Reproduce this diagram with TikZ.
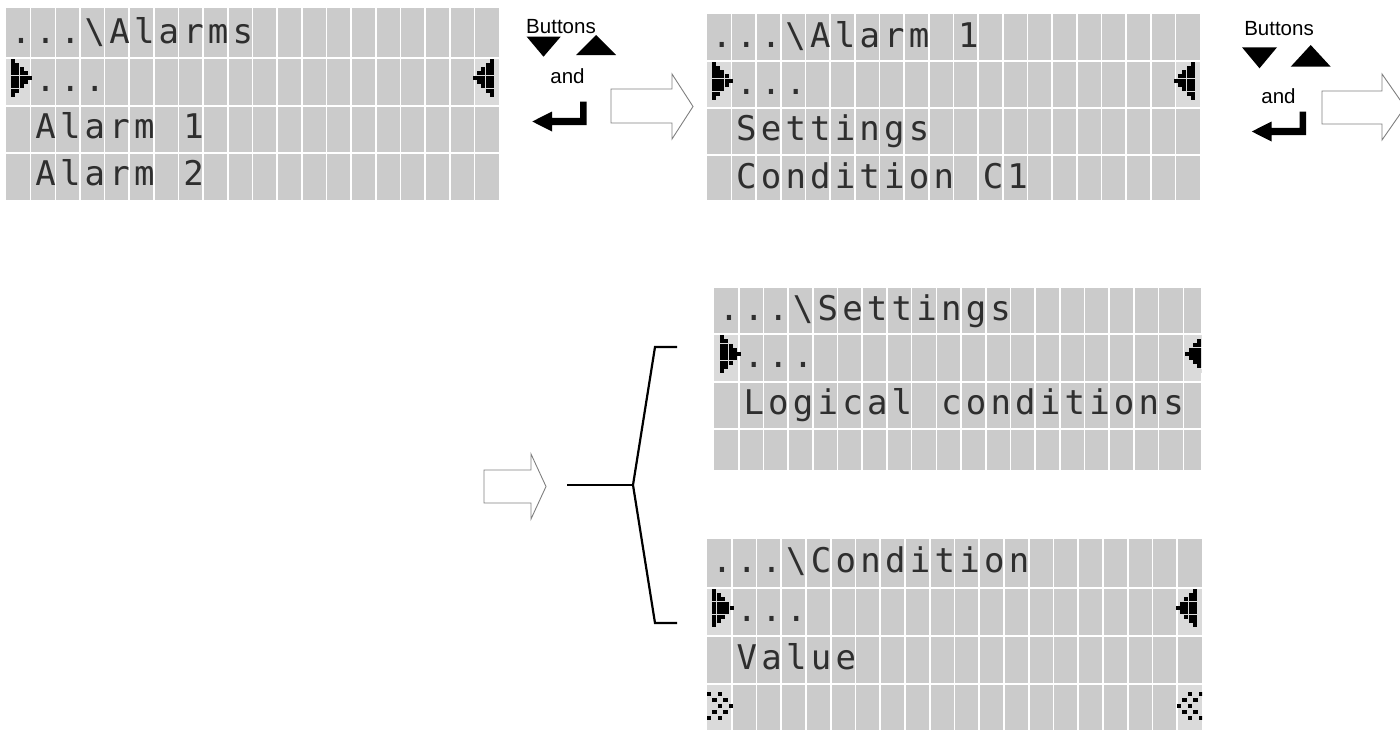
\documentclass[tikz,border=0pt]{standalone}
\usepackage{fontspec}
\setmainfont{Liberation Sans}
\newfontfamily\lcdfont{DejaVu Sans Mono}
\usetikzlibrary{calc}

\definecolor{lcdgray}{HTML}{CBCBCB}
\definecolor{iconbg}{HTML}{DADADA}
\definecolor{lcdink}{HTML}{2E2E2E}
\definecolor{hollowline}{HTML}{808080}

\newlength\lcdcw
\newcommand\bs{\textbackslash}
\newcommand\lcdtxt[2]{\setlength\lcdcw{#1pt}\lcdloop#2\relax}
\def\lcdloop#1{\ifx#1\relax\else\makebox[\lcdcw][c]{#1}\expandafter\lcdloop\fi}

% panel: name, x0, x1, column width, row tops y0..y3, bottom y4
\newcommand\lcdpanel[9]{%
  \node[lcdbox, anchor=north west, minimum width={#3-#2}, minimum height={#9-#5}] (#1) at (#2,#5) {};
}
\newcommand\lcdgrid[9]{%
  \foreach \i in {1,...,19} {\draw[gridline] ({#2+\i*#4},#5) -- ({#2+\i*#4},#9);}
  \foreach \yy in {#6,#7,#8} {\draw[gridline] (#2,\yy) -- (#3,\yy);}
}
% right-pointing dot triangle: col0 centre x, row0 centre y, pitch
\newcommand\dotsright[3]{%
  \foreach \c in {0,...,4}{%
    \pgfmathtruncatemacro\ee{8-\c}%
    \foreach \r in {\c,...,\ee}{\fill[lcddot] ({#1+\c*#3-2},{#2+\r*#3-2}) rectangle +(4,4);}}%
}
% left-pointing dot triangle: widest column centre x, row0 centre y, pitch
\newcommand\dotsleft[3]{%
  \foreach \c in {0,...,4}{%
    \pgfmathtruncatemacro\ee{8-\c}%
    \foreach \r in {\c,...,\ee}{\fill[lcddot] ({#1-\c*#3-2},{#2+\r*#3-2}) rectangle +(4,4);}}%
}
% chevron scroll marks: col0 x, row0 y, direction (+1 or -1)
\newcommand\chevron[3]{%
  \foreach \px/\py in {0/0,2/0,1/1,3/1,2/2,4/2,1/3,3/3,0/4,2/4}{%
    \fill[lcddot] ({#1+#3*\px*5.5-2.2},{#2+\py*6-2.2}) rectangle +(4.4,4.4);}%
}
\newcommand\enterkey[3]{% name, dx, dy
  \begin{scope}[shift={(#2,#3)}]
    \coordinate (#1) at (560,120);
    \fill[black] (580,101.7) -- (586.7,101.7) -- (586.7,125) -- (552,125) -- (552,131.5)
      -- (532.3,121.5) -- (552,111.5) -- (552,117.9) -- (580,117.9) -- cycle;
  \end{scope}
}

\begin{document}
\begin{tikzpicture}[x=1pt,y=-1pt,
  lcdbox/.style={fill=lcdgray, draw=none, inner sep=0pt, outer sep=0pt},
  gridline/.style={draw=white, line width=1.6pt},
  iconcell/.style={fill=iconbg},
  lcddot/.style={fill=black},
  lcdtext/.style={anchor=base west, inner sep=0pt, text=lcdink,
    font=\lcdfont\fontsize{34}{34}\selectfont},
  btntext/.style={anchor=base, inner sep=0pt, font=\fontsize{20.5}{24}\selectfont},
  hollow/.style={draw=hollowline, fill=white, line width=0.9pt, line join=miter},
  bracket/.style={draw=black, line width=2.2pt, line join=miter},
]
\useasboundingbox (0,0) rectangle (1400,729);
\clip (0,0) rectangle (1400,729);
\fill[white] (0,0) rectangle (1400,729);

% ---------- panels ----------
\lcdpanel{P1}{6}{499}{24.65}{8}{58}{106}{153}{200}
\lcdpanel{P2}{706.7}{1200}{24.67}{14}{61}{108}{155}{200}
\lcdpanel{P3}{714}{1201}{24.7}{288}{334}{382}{429}{470}
\lcdpanel{P4}{707}{1202}{24.75}{539}{588}{636}{684}{732}

% icon cells
\fill[iconcell] (6,58.8) rectangle (30.2,105.2);
\fill[iconcell] (474.8,58.8) rectangle (499,105.2);
\fill[iconcell] (706.7,61.8) rectangle (730.9,107.2);
\fill[iconcell] (1175.8,61.8) rectangle (1200,107.2);
\fill[iconcell] (714,334.8) rectangle (738.2,381.2);
\fill[iconcell] (1184,334.8) rectangle (1201,381.2);
\fill[iconcell] (707,588.8) rectangle (731.3,635.2);
\fill[iconcell] (1177.5,588.8) rectangle (1202,635.2);
\fill[iconcell] (707,684.8) rectangle (731.3,732);
\fill[iconcell] (1177.5,684.8) rectangle (1202,732);

\lcdgrid{P1}{6}{499}{24.65}{8}{58}{106}{153}{200}
\lcdgrid{P2}{706.7}{1200}{24.67}{14}{61}{108}{155}{200}
\lcdgrid{P3}{714}{1201}{24.7}{288}{334}{382}{429}{470}
\lcdgrid{P4}{707}{1202}{24.75}{539}{588}{636}{684}{732}

% icons
\dotsright{13}{60.5}{4.3}
\dotsleft{492}{60.5}{4.3}
\dotsright{713.7}{63.5}{4.3}
\dotsleft{1193}{63.5}{4.3}
\begin{scope}
  \clip (714,288) rectangle (1201,470);
  \dotsright{722}{337}{4.25}
  \dotsleft{1203.3}{337}{4.2}
\end{scope}
\dotsright{714.3}{590.8}{4.3}
\dotsleft{1195}{590.8}{4.3}
\begin{scope}
  \clip (707,539) rectangle (1202,729);
  \chevron{709}{694}{1}
  \chevron{1201}{694}{-1}
\end{scope}

% texts
\node[lcdtext] (P1t1) at (8.5,43) {\lcdtxt{24.65}{...\bs Alarms}};
\node[lcdtext] (P1t2) at (8.5,91) {\lcdtxt{24.65}{~...}};
\node[lcdtext] (P1t3) at (8.5,138) {\lcdtxt{24.65}{~Alarm~1}};
\node[lcdtext] (P1t4) at (8.5,185) {\lcdtxt{24.65}{~Alarm~2}};

\node[lcdtext] (P2t1) at (709.2,47) {\lcdtxt{24.67}{...\bs Alarm~1}};
\node[lcdtext] (P2t2) at (709.2,94) {\lcdtxt{24.67}{~...}};
\node[lcdtext] (P2t3) at (709.2,140) {\lcdtxt{24.67}{~Settings}};
\node[lcdtext] (P2t4) at (709.2,188) {\lcdtxt{24.67}{~Condition~C1}};

\node[lcdtext] (P3t1) at (716.5,320) {\lcdtxt{24.7}{...\bs Settings}};
\node[lcdtext] (P3t2) at (716.5,367) {\lcdtxt{24.7}{~...}};
\node[lcdtext] (P3t3) at (716.5,414) {\lcdtxt{24.7}{~Logical~conditions}};

\node[lcdtext] (P4t1) at (709.5,572) {\lcdtxt{24.75}{...\bs Condition}};
\node[lcdtext] (P4t2) at (709.5,621) {\lcdtxt{24.75}{~...}};
\node[lcdtext] (P4t3) at (709.5,669) {\lcdtxt{24.75}{~Value}};

% ---------- button hints ----------
\node[btntext] (B1) at (561,33) {Buttons};
\node[btntext] (A1) at (567.5,83) {and};
\fill[black] (526.7,36.7) -- (560.7,36.7) -- (543.5,56.7) -- cycle;
\fill[black] (576,55) -- (616,55) -- (596,35) -- cycle;
\enterkey{E1}{0}{0}

\node[btntext] (B2) at (1279,35) {Buttons};
\node[btntext] (A2) at (1278.5,103) {and};
\fill[black] (1242,47.3) -- (1277,47.3) -- (1259.5,68.3) -- cycle;
\fill[black] (1290.7,66.7) -- (1330.7,66.7) -- (1310.7,45) -- cycle;
\enterkey{E2}{719.5}{10}

% ---------- hollow arrows ----------
\draw[hollow] (611,89) -- (672,89) -- (672,74) -- (693,106.5) -- (672,139) -- (672,123) -- (611,123) -- cycle;
\draw[hollow] (1322,91) -- (1382,91) -- (1382,74) -- (1405,107) -- (1382,140) -- (1382,124) -- (1322,124) -- cycle;
\draw[hollow] (484,470) -- (531,470) -- (531,454) -- (546,486.5) -- (531,519) -- (531,503) -- (484,503) -- cycle;

% ---------- bracket ----------
\coordinate (brin) at (567,485);
\coordinate (brfork) at (633,485);
\coordinate (brtop) at (655,347);
\coordinate (brbot) at (655,623);
\coordinate (brtopend) at (677,347);
\coordinate (brbotend) at (677,623);
\draw[bracket] (brin) -- (brfork);
\draw[bracket] (brtopend) -- (brtop) -- (brfork) -- (brbot) -- (brbotend);
\end{tikzpicture}
\end{document}
